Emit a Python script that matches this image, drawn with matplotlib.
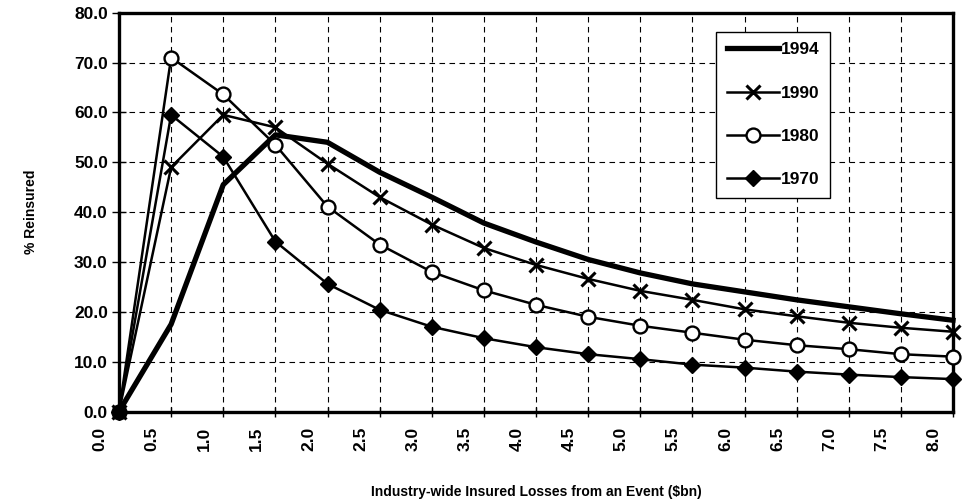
import matplotlib
matplotlib.use("Agg")
import matplotlib.pyplot as plt
from matplotlib.transforms import ScaledTranslation, blended_transform_factory

plt.rcParams['font.family'] = ['Liberation Sans', 'DejaVu Sans']
plt.rcParams['font.weight'] = 'bold'

x_vals = [0.0, 0.5, 1.0, 1.5, 2.0, 2.5, 3.0, 3.5, 4.0, 4.5, 5.0, 5.5, 6.0, 6.5, 7.0, 7.5, 8.0]
y_1994 = [0.0, 17.5, 45.5, 55.5, 54.0, 48.0, 43.0, 37.8, 34.0, 30.5, 27.8, 25.6, 24.0, 22.4, 21.0, 19.6, 18.3]
y_1990 = [0.0, 49.0, 59.5, 57.0, 49.7, 43.0, 37.5, 32.8, 29.4, 26.6, 24.2, 22.4, 20.5, 19.1, 17.8, 16.8, 16.0]
y_1980 = [0.0, 71.0, 63.6, 53.5, 41.1, 33.5, 28.0, 24.3, 21.4, 19.0, 17.2, 15.8, 14.4, 13.3, 12.5, 11.5, 11.0]
y_1970 = [0.0, 59.5, 51.1, 34.1, 25.6, 20.4, 17.0, 14.7, 12.9, 11.5, 10.5, 9.4, 8.8, 8.0, 7.4, 6.9, 6.5]
x_ticks = [0.0, 0.5, 1.0, 1.5, 2.0, 2.5, 3.0, 3.5, 4.0, 4.5, 5.0, 5.5, 6.0, 6.5, 7.0, 7.5, 8.0]
y_ticks = [0, 10, 20, 30, 40, 50, 60, 70, 80]

FS = 12.5

fig = plt.figure(figsize=(9.63, 4.99), dpi=100)
ax = fig.add_axes([119/963, 1 - 411.5/499, (953 - 119)/963, (411.5 - 12.7)/499])

ax.plot(x_vals, y_1994, color='black', lw=3.8, label='1994', clip_on=False, zorder=3)
ax.plot(x_vals, y_1990, color='black', lw=1.8, marker='x', ms=10, mew=2.2,
        label='1990', clip_on=False, zorder=4)
ax.plot(x_vals, y_1980, color='black', lw=1.8, marker='o', ms=10, mew=1.7,
        mfc='white', mec='black', label='1980', clip_on=False, zorder=4)
ax.plot(x_vals, y_1970, color='black', lw=1.8, marker='D', ms=8.5, mew=1,
        mfc='black', label='1970', clip_on=False, zorder=4)

ax.set_xlim(0, 8.0)
ax.set_ylim(0, 80)
ax.set_xticks(x_ticks)
ax.set_xticklabels([])
ax.set_yticks(y_ticks)
ax.set_yticklabels([f"{v:.1f}" for v in y_ticks], fontsize=FS, fontweight='bold')

# x tick labels: rotated, sitting slightly left of their tick marks as in the reference
lab_tr = blended_transform_factory(ax.transData, ax.transAxes) + \
    ScaledTranslation(-0.19, -0.155, fig.dpi_scale_trans)
for v in x_ticks:
    ax.text(v, 0, f"{v:.1f}", transform=lab_tr, rotation=90, ha='center', va='top',
            fontsize=FS, fontweight='bold', clip_on=False)

ax.tick_params(axis='x', direction='inout', length=7, width=1)
ax.tick_params(axis='y', direction='inout', length=10, width=1, pad=3)

ax.grid(True, color='black', linestyle=(0, (5, 4)), linewidth=0.8)
ax.set_axisbelow(True)
for s in ax.spines.values():
    s.set_linewidth(2.4)
    s.set_color('black')

ax.set_ylabel('% Reinsured', fontsize=10, fontweight='bold')
ax.set_xlabel('Industry-wide Insured Losses from an Event ($bn)', fontsize=10,
              fontweight='bold')
ax.yaxis.set_label_coords(-0.097, 0.5)
ax.xaxis.set_label_coords(0.5, -0.185)

leg = ax.legend(loc='upper left', bbox_to_anchor=(0.716, 0.952), fontsize=FS,
                frameon=True, fancybox=False, edgecolor='black', framealpha=1,
                labelspacing=1.62, handlelength=3.0, handletextpad=0.15,
                borderpad=0.6, borderaxespad=0)
leg.get_frame().set_linewidth(1.0)
for t in leg.get_texts():
    t.set_fontweight('bold')

fig.savefig('out.png', dpi=100)
